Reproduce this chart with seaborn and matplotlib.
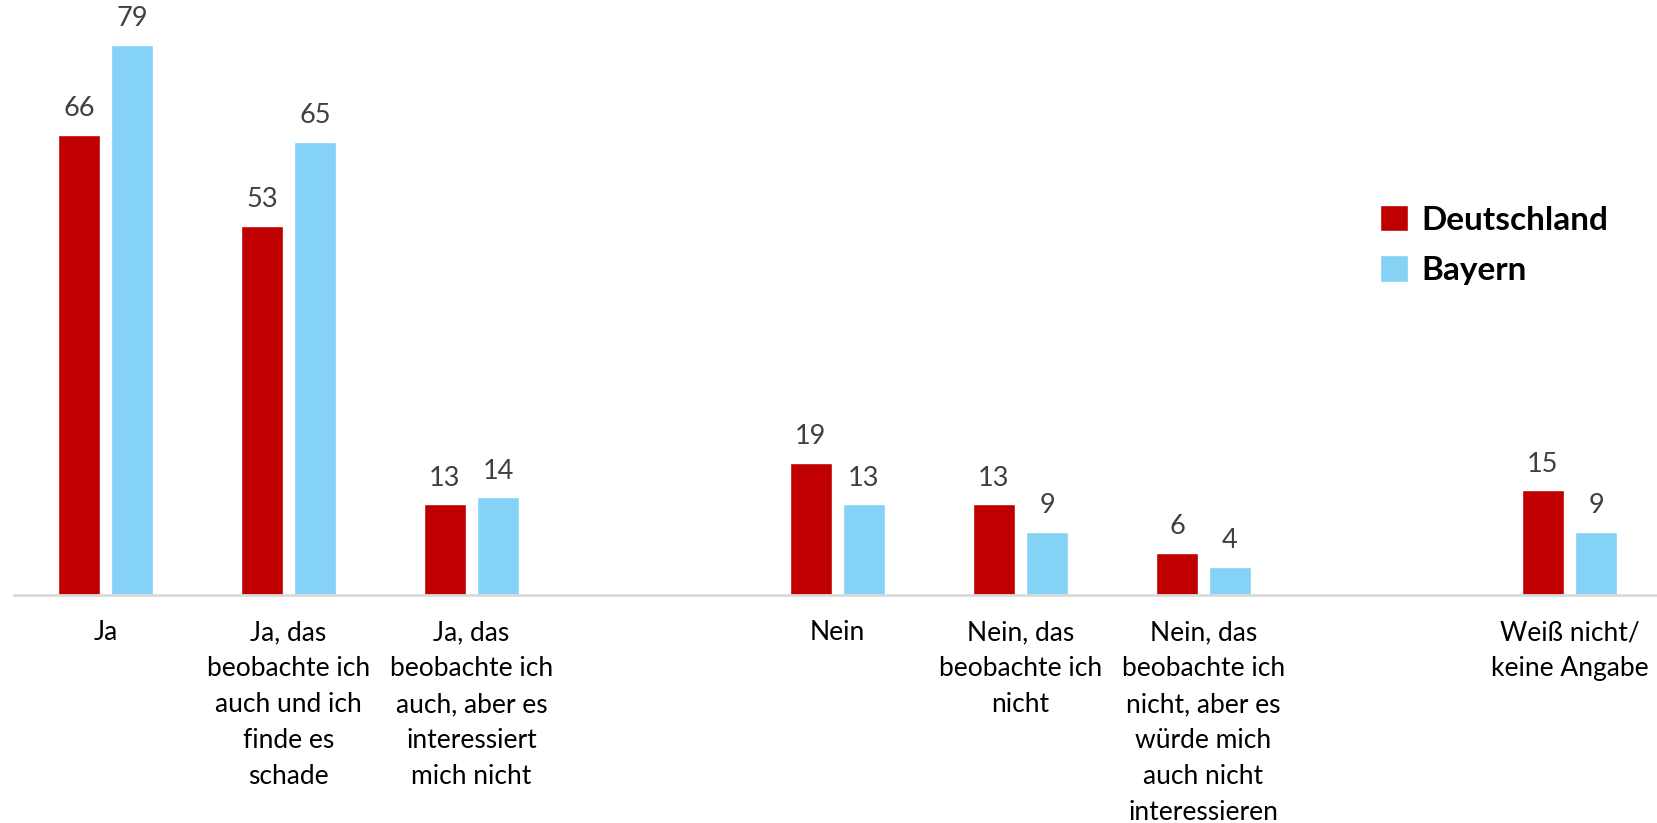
import matplotlib
matplotlib.use("Agg")
import matplotlib.pyplot as plt
import seaborn as sns
import pandas as pd

# Kategorien (leere Slots trennen die Gruppen)
categories = ["ja", "ja_schade", "ja_egal", "leer1", "nein", "nein_nicht", "nein_egal", "leer2", "weiss_nicht"]
tick_labels = [
    "Ja",
    "Ja, das\nbeobachte ich\nauch und ich\nfinde es\nschade",
    "Ja, das\nbeobachte ich\nauch, aber es\ninteressiert\nmich nicht",
    "",
    "Nein",
    "Nein, das\nbeobachte ich\nnicht",
    "Nein, das\nbeobachte ich\nnicht, aber es\nwürde mich\nauch nicht\ninteressieren",
    "",
    "Weiß nicht/\nkeine Angabe",
]
data_cats = ["ja", "ja_schade", "ja_egal", "nein", "nein_nicht", "nein_egal", "weiss_nicht"]
deutschland = [66, 53, 13, 19, 13, 6, 15]
bayern = [79, 65, 14, 13, 9, 4, 9]
series = ["Deutschland", "Bayern"]
colors = {"Deutschland": "#C00000", "Bayern": "#84D2F6"}

df = pd.DataFrame({
    "kategorie": data_cats * 2,
    "wert": deutschland + bayern,
    "region": ["Deutschland"] * len(data_cats) + ["Bayern"] * len(data_cats),
})

sns.set_style("white")
plt.rcParams["font.family"] = ["Lato", "DejaVu Sans"]

fig = plt.figure(figsize=(16.57, 8.23), dpi=100)
ax = fig.add_axes([14 / 1657, (823 - 595) / 823, 1647 / 1657, 595 / 823])

sns.barplot(data=df, x="kategorie", y="wert", hue="region", order=categories,
            hue_order=series, palette=colors, width=0.58, gap=0.207,
            saturation=1, ax=ax, legend=True)

for cont in ax.containers:
    ax.bar_label(cont, padding=10, fontsize=19.5, color="#404040")

ax.set_xlim(-0.5, 8.5)
ax.set_ylim(0, 85.4)
ax.set_xticks(range(len(categories)))
ax.set_xticklabels(tick_labels, fontsize=19, color="black", linespacing=1.55)
ax.tick_params(axis="x", length=0, pad=18)
ax.set_yticks([])
ax.set_xlabel("")
ax.set_ylabel("")
for s in ["top", "right", "left"]:
    ax.spines[s].set_visible(False)
ax.spines["bottom"].set_color("#D9D9D9")
ax.spines["bottom"].set_linewidth(2)

handles, labels = ax.get_legend_handles_labels()
leg = ax.legend(handles, labels, loc="center left", bbox_to_anchor=(1350 / 1657, 1 - 245 / 823),
                bbox_transform=fig.transFigure, frameon=False, handlelength=0.85, handleheight=0.85,
                handletextpad=0.4, labelspacing=0.62, prop={"size": 24, "weight": "bold"})
for t in leg.get_texts():
    t.set_color("black")

fig.savefig("out.png", dpi=100)
